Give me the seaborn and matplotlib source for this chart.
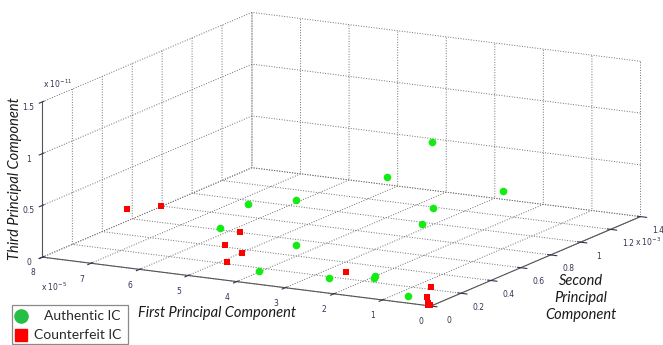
import numpy as np
import pandas as pd
import matplotlib
matplotlib.use("Agg")
import matplotlib.pyplot as plt
from matplotlib.lines import Line2D
from matplotlib.patches import Rectangle
import seaborn as sns

# scaled units: PC1 x1e-5, PC2 x1e-3, PC3 x1e-11
auth_pc1 = [2.44, 2.76, 1.70, 5.31, 4.63, 2.42, 2.35, 5.57, 4.01, 3.85, 2.57, 1.78, 1.80, 0.63]
auth_pc2 = [0.80, 0.60, 1.03, 0.50, 0.60, 0.80, 0.70, 0.40, 0.40, 0.10, 0.15, 0.20, 0.21, 0.05]
auth_pc3 = [0.95, 0.71, 0.38, 0.36, 0.38, 0.31, 0.22, 0.18, 0.11, 0.05, 0.03, 0.04, 0.05, 0.03]

fake_pc1 = [6.88, 6.63, 4.85, 5.02, 4.51, 4.51, 2.37, 0.47, 0.24, 0.09, 0.05, 0.12]
fake_pc2 = [0.20, 0.35, 0.30, 0.25, 0.20, 0.10, 0.20, 0.15, 0.05, 0.01, 0.01, 0.02]
fake_pc3 = [0.41, 0.36, 0.24, 0.14, 0.12, 0.10, 0.07, 0.06, 0.04, 0.00, 0.00, 0.01]

x_ticks = [0, 1, 2, 3, 4, 5, 6, 7, 8]
y_ticks = [0, 0.2, 0.4, 0.6, 0.8, 1, 1.2, 1.4]
z_ticks = [0, 0.5, 1, 1.5]
legend_labels = ["Authentic IC", "Counterfeit IC"]

green = "#13ec13"
red = "#ff0000"
legend_green = "#26bf45"

sns.set_style("white")
plt.rcParams["grid.linestyle"] = ":"
plt.rcParams["grid.color"] = "#6e6e6e"
plt.rcParams["grid.linewidth"] = 0.7

fig = plt.figure(figsize=(6.63, 3.45), dpi=100)
ax = fig.add_axes([0.008, 0.025, 1, 1], projection="3d", proj_type="ortho")

df_a = pd.DataFrame({"x": auth_pc1, "y": auth_pc2, "z": auth_pc3})
df_f = pd.DataFrame({"x": fake_pc1, "y": fake_pc2, "z": fake_pc3})
pts_a = ax.scatter(df_a.x, df_a.y, df_a.z, c=green, marker="o", s=30, depthshade=False, linewidths=0)
pts_f = ax.scatter(df_f.x, df_f.y, df_f.z, c=red, marker="s", s=24, depthshade=False, linewidths=0)
pts_a.set_clip_on(False)
pts_f.set_clip_on(False)

ax.set_xlim(8, 0)
ax.set_ylim(0, 1.4)
ax.set_zlim(0, 1.5)
ax.set_xticks(x_ticks)
ax.set_yticks(y_ticks)
ax.set_zticks(z_ticks)
ax.set_xticklabels([str(t) for t in x_ticks])
ax.set_yticklabels([f"{t:g}" for t in y_ticks])
ax.set_zticklabels([f"{t:g}" for t in z_ticks])
ax.view_init(elev=13.4, azim=-61.5)
ax.set_box_aspect((443, 440, 160), zoom=1.81)
ax.zaxis.set_ticks_position("lower")

for axis in (ax.xaxis, ax.yaxis, ax.zaxis):
    axis.set_pane_color((1, 1, 1, 0))
    axis.pane.set_edgecolor((1, 1, 1, 0))
    axis.line.set_color("#555555")
    axis.line.set_linewidth(0.8)
ax.tick_params(labelsize=5.5, colors="#333355")
ax.xaxis.set_tick_params(pad=-2)
ax.yaxis.set_tick_params(pad=-2)
ax.zaxis.set_tick_params(pad=-5)
ax.grid(True)

lab = dict(family="Lato", style="italic", fontsize=10.5, color="#1a1a1a")
fig.text(0.023, 0.481, "Third Principal Component", rotation=90, ha="center", va="center", **lab)
fig.text(0.327, 0.093, "First Principal Component", ha="center", va="center", **lab)
fig.text(0.876, 0.136, "Second\nPrincipal\nComponent", ha="center", va="center", linespacing=1.25, **lab)

small = dict(fontsize=5.5, color="#333355", va="center")
fig.text(0.062, 0.168, r"x 10$^{-5}$", **small)
fig.text(0.065, 0.757, r"x 10$^{-11}$", **small)
fig.text(0.998, 0.30, r"x 10$^{-3}$", ha="right", **small)

# legend drawn by hand so the labels can be right aligned like the original
fig.add_artist(Rectangle((12 / 663, 1 / 345), 116 / 663, 39 / 345, transform=fig.transFigure,
                         facecolor="white", edgecolor="#8a8a8a", linewidth=0.9))
fig.add_artist(Line2D([20.5 / 663], [1 - 316 / 345], transform=fig.transFigure, marker="o",
                      ls="", color=legend_green, markersize=9.5))
fig.add_artist(Line2D([20.5 / 663], [1 - 335 / 345], transform=fig.transFigure, marker="s",
                      ls="", color=red, markersize=8.5))
leg_font = dict(family="Lato", fontsize=10, color="#2a2a2a", ha="right", va="center")
fig.text(121 / 663, 1 - 316 / 345, legend_labels[0], **leg_font)
fig.text(121 / 663, 1 - 335 / 345, legend_labels[1], **leg_font)

fig.savefig("out.png", dpi=100)
